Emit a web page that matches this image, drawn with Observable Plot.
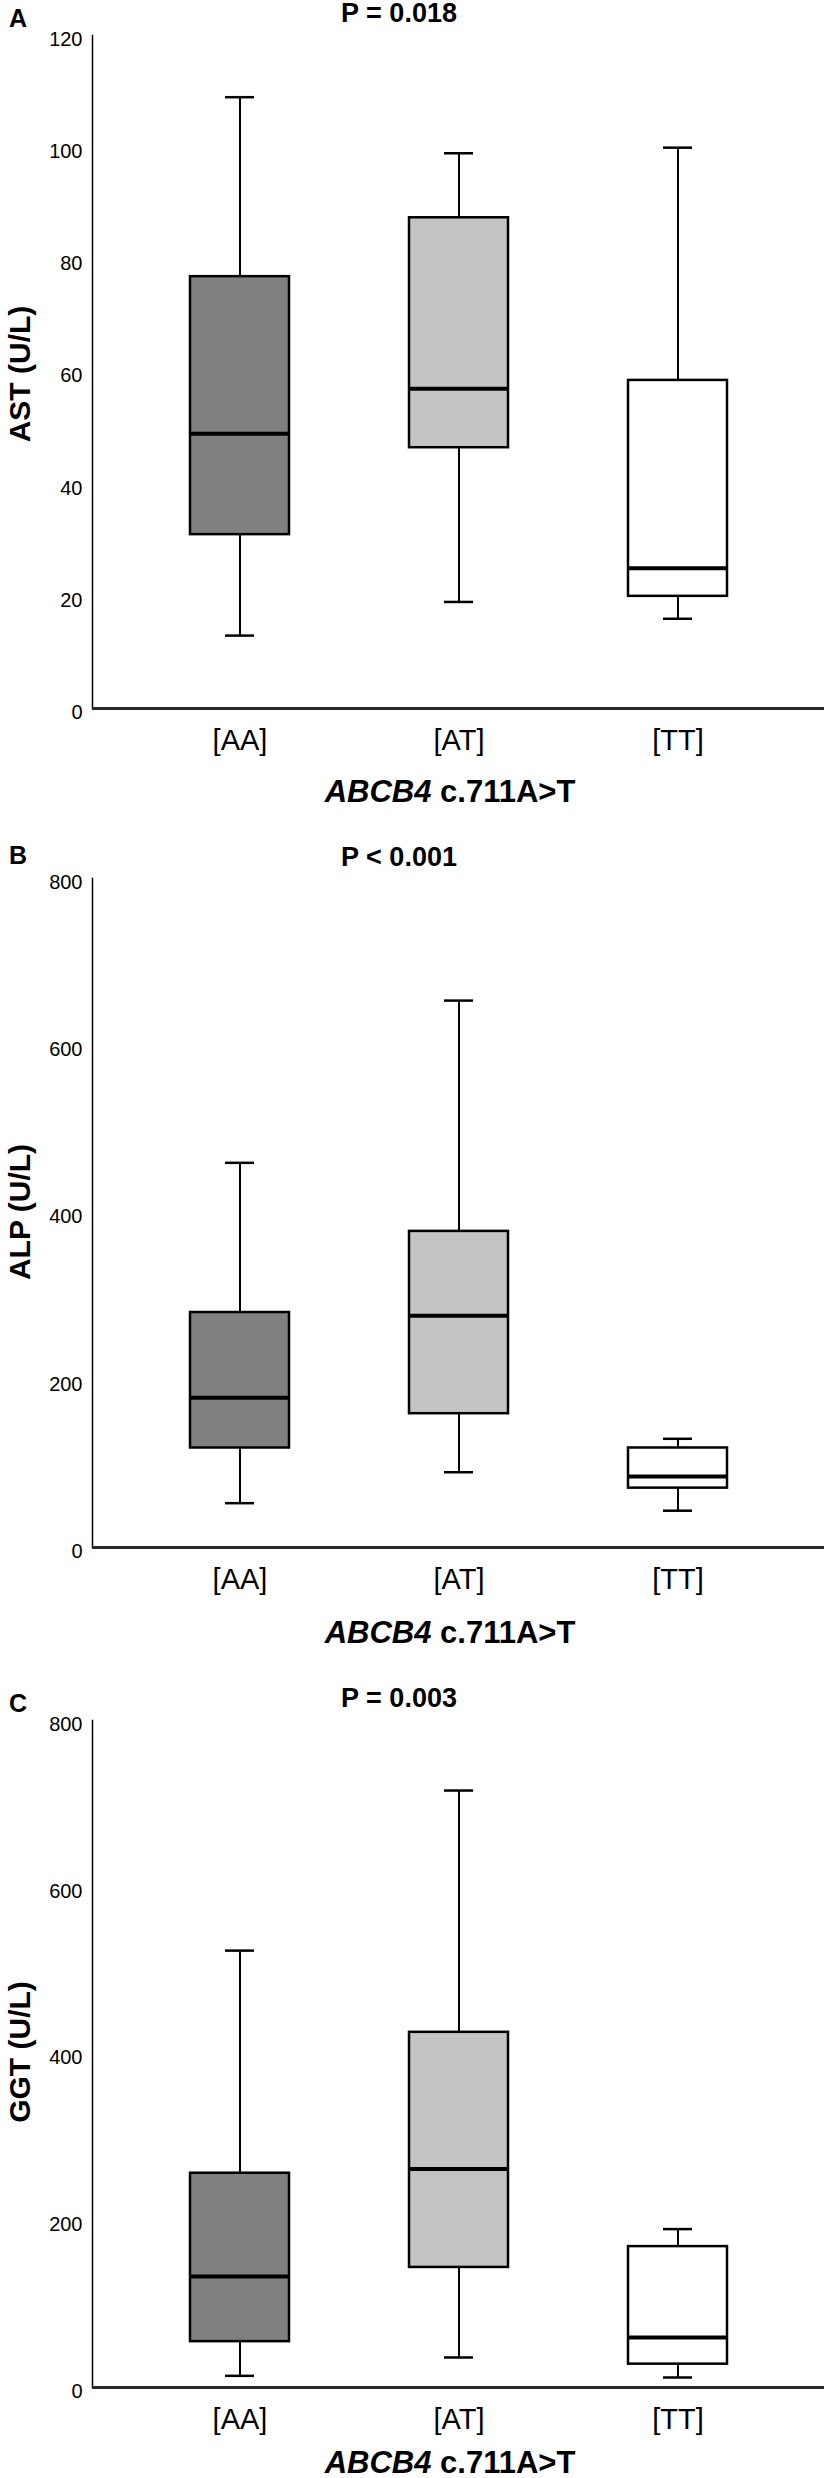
<!DOCTYPE html>
<html>
<head>
<meta charset="utf-8">
<script src="https://cdn.jsdelivr.net/npm/d3@7"></script>
<script src="https://cdn.jsdelivr.net/npm/@observablehq/plot@0.6"></script>
<style>
  html, body { margin: 0; padding: 0; background: #fff; }
  body { width: 824px; height: 2478px; position: relative; overflow: hidden;
         font-family: "Liberation Sans", Arial, sans-serif; color: #000; }
  .abs { position: absolute; line-height: 1; white-space: nowrap; }
  .c { transform: translate(-50%, -50%); }
  .rot { transform: translate(-50%, -50%) rotate(-90deg); font-weight: bold; font-size: 30px; }
  .letter { font-weight: bold; font-size: 25px; transform: translateY(-50%); }
  .ptitle { font-weight: bold; font-size: 27px; }
  .xtitle { font-weight: bold; font-size: 31px; }
  .panel { position: absolute; left: 0; }
</style>
</head>
<body>
<script>
// Categories and colors
const groups = ["[AA]", "[AT]", "[TT]"];
const fills = ["#808080", "#c4c4c4", "#ffffff"];

// Panel A: AST (U/L)
const astMin = [13, 19, 16];
const astQ1  = [31, 46.5, 20];
const astMed = [49, 57, 25];
const astQ3  = [77, 87.5, 58.5];
const astMax = [109, 99, 100];
const astTicks = [0, 20, 40, 60, 80, 100, 120];

// Panel B: ALP (U/L)
const alpMin = [53, 90, 44];
const alpQ1  = [119, 160, 71];
const alpMed = [179, 277, 85];
const alpQ3  = [281, 378, 119];
const alpMax = [460, 654, 130];
const alpTicks = [0, 200, 400, 600, 800];

// Panel C: GGT (U/L)
const ggtMin = [14, 36, 12];
const ggtQ1  = [55, 144, 28];
const ggtMed = [133, 262, 60];
const ggtQ3  = [257, 426, 169];
const ggtMax = [524, 716, 190];
const ggtTicks = [0, 200, 400, 600, 800];

const panelLetters = ["A", "B", "C"];
const pTitles = ["P = 0.018", "P < 0.001", "P = 0.003"];
const yTitles = ["AST (U/L)", "ALP (U/L)", "GGT (U/L)"];
const xTitleItalic = "ABCB4";
const xTitleRest = " c.711A>T";

function makePanel(min, q1, med, q3, max, ticks, height) {
  const data = groups.map((g, i) => ({g, min: min[i], q1: q1[i], med: med[i], q3: q3[i], max: max[i]}));
  return Plot.plot({
    width: 824,
    height,
    marginTop: 35,
    marginBottom: 50,
    marginLeft: 92,
    marginRight: 0,
    style: {fontFamily: "'Liberation Sans', Arial, sans-serif", color: "#000", background: "transparent", overflow: "visible"},
    x: {domain: groups, paddingInner: 0.548, paddingOuter: 0.445},
    y: {domain: [0, ticks[ticks.length - 1]], nice: false},
    color: {domain: groups, range: fills},
    marks: [
      Plot.axisY({ticks, tickSize: 0, tickPadding: 10, fontSize: 20, dy: 4, label: null}),
      Plot.axisX({tickSize: 0, tickPadding: 21, fontSize: 29, label: null}),
      Plot.ruleX(data, {x: "g", y1: "min", y2: "max", stroke: "#000", strokeWidth: 2}),
      Plot.tickY(data, {x: "g", y: "min", stroke: "#000", strokeWidth: 2.5, insetLeft: 35, insetRight: 35}),
      Plot.tickY(data, {x: "g", y: "max", stroke: "#000", strokeWidth: 2.5, insetLeft: 35, insetRight: 35}),
      Plot.barY(data, {x: "g", y1: "q1", y2: "q3", fill: "g", stroke: "#000", strokeWidth: 2.5}),
      Plot.tickY(data, {x: "g", y: "med", stroke: "#000", strokeWidth: 4}),
      Plot.frame({anchor: "left", stroke: "#000", strokeWidth: 1.5}),
      Plot.ruleY([0], {stroke: "#2a2a2a", strokeWidth: 3})
    ]
  });
}

const panels = [
  {top: 0,    h: 758, args: [astMin, astQ1, astMed, astQ3, astMax, astTicks], letterY: 18,   pY: 13,   yTitleY: 374,  xTitleY: 791},
  {top: 843,  h: 754, args: [alpMin, alpQ1, alpMed, alpQ3, alpMax, alpTicks], letterY: 855,  pY: 857,  yTitleY: 1212, xTitleY: 1632},
  {top: 1685, h: 752, args: [ggtMin, ggtQ1, ggtMed, ggtQ3, ggtMax, ggtTicks], letterY: 1703, pY: 1698, yTitleY: 2052, xTitleY: 2462}
];

panels.forEach((p, i) => {
  const wrap = document.createElement("div");
  wrap.className = "panel";
  wrap.style.top = p.top + "px";
  wrap.appendChild(makePanel(...p.args, p.h));
  document.body.appendChild(wrap);

  const letter = document.createElement("div");
  letter.className = "abs letter";
  letter.style.left = "9px";
  letter.style.top = p.letterY + "px";
  letter.textContent = panelLetters[i];
  document.body.appendChild(letter);

  const pt = document.createElement("div");
  pt.className = "abs c ptitle";
  pt.style.left = "399px";
  pt.style.top = p.pY + "px";
  pt.textContent = pTitles[i];
  document.body.appendChild(pt);

  const yt = document.createElement("div");
  yt.className = "abs rot";
  yt.style.left = "20px";
  yt.style.top = p.yTitleY + "px";
  yt.textContent = yTitles[i];
  document.body.appendChild(yt);

  const xt = document.createElement("div");
  xt.className = "abs c xtitle";
  xt.style.left = "450px";
  xt.style.top = p.xTitleY + "px";
  const it = document.createElement("i");
  it.textContent = xTitleItalic;
  xt.appendChild(it);
  xt.appendChild(document.createTextNode(xTitleRest));
  document.body.appendChild(xt);
});
</script>
</body>
</html>
